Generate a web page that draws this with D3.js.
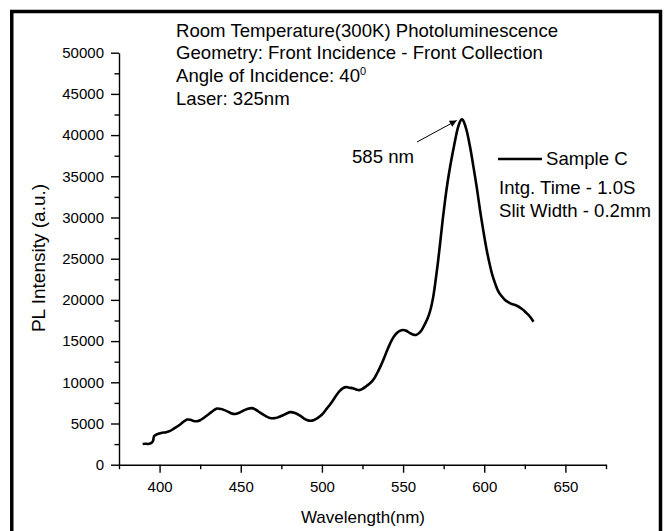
<!DOCTYPE html>
<html><head><meta charset="utf-8">
<script src="https://cdn.jsdelivr.net/npm/d3@7"></script>
<style>
html,body{margin:0;padding:0;background:#fff;}
svg text{font-family:"Liberation Sans",Arial,sans-serif;fill:#000;}
</style></head>
<body><div id="chart"></div>
<script>
// ---- data ----
const wavelength = [389.6,391,393,395,396,396.6,398,401,404,406.5,409,412.5,415,417,419,421,423,425,427,429,431,433,435.5,438,440,442,444,446.5,449,451.5,454,456.8,459,462,465,468,471,473,476,478.5,480.5,483,486.5,489,492,494,496.5,499,501,503,505,507,509,511,513,515,517,519.5,521.5,523,525,527.5,530,532,534,536,538,540,542,544,546,548,550,552,554,556,558,560,561.5,563,565,567,568.6,570,571.5,573,574.5,576,577.5,579,580.5,582,583.5,585,586,587,588.5,589.6,591.5,593.3,595.5,597.4,599.5,601.5,603.5,605,606.7,608.5,610.5,612.8,615,617,619,621,622.5,624.1,625.5,627.2,628.8,630.3];
const intensity = [2500,2550,2520,2650,2900,3450,3650,3850,3950,4100,4400,4850,5250,5480,5450,5300,5280,5400,5650,5950,6250,6550,6820,6750,6620,6450,6250,6150,6300,6550,6750,6870,6700,6320,5950,5680,5650,5750,6000,6250,6380,6300,5950,5600,5350,5350,5550,5900,6300,6800,7300,7850,8450,8950,9300,9420,9350,9250,9100,9050,9200,9550,9950,10400,11100,11900,12800,13800,14700,15450,15950,16250,16350,16250,16000,15800,15750,16000,16350,16900,17700,18900,20400,22300,24600,27200,29900,32300,34400,36200,37800,39300,40700,41600,41900,41800,41000,40200,38300,36200,33500,30900,28300,26060,24200,23000,22000,21100,20500,20000,19700,19500,19380,19200,19000,18770,18500,18170,17800,17350];
const xMajorTicks = [400,450,500,550,600,650];
const xMinorTicks = [375,425,475,525,575,625,675];
const yMajorTicks = [0,5000,10000,15000,20000,25000,30000,35000,40000,45000,50000];
const yMinorTicks = [2500,7500,12500,17500,22500,27500,32500,37500,42500,47500];
const headerLines = ["Room Temperature(300K) Photoluminescence","Geometry: Front Incidence - Front Collection","Angle of Incidence: 40","Laser: 325nm"];
const seriesName = "Sample C";
const noteLines = ["Intg. Time - 1.0S","Slit Width - 0.2mm"];
const peakLabel = "585 nm";
const peakPoint = [585.5, 41900];
const xTitle = "Wavelength(nm)";
const yTitle = "PL Intensity (a.u.)";

// ---- drawing ----
const W = 664, H = 531;
const svg = d3.select("#chart").append("svg").attr("width", W).attr("height", H);

svg.append("rect").attr("x",11.75).attr("y",11.5).attr("width",648.75).attr("height",560)
  .attr("fill","none").attr("stroke","#000").attr("stroke-width",3.5);

const x = d3.scaleLinear().domain([375,675]).range([119,606]);
const y = d3.scaleLinear().domain([0,50000]).range([464.7,52.7]);

const axStyle = g => {
  g.selectAll("path.domain").attr("stroke","#000").attr("stroke-width",1.4);
  g.selectAll(".tick line").attr("stroke","#000").attr("stroke-width",1.4);
  g.selectAll(".tick text").style("font-size","15px").attr("fill","#000");
};

// x axis
const gx = svg.append("g").attr("transform",`translate(0,${y(0)})`)
  .call(d3.axisBottom(x).tickValues(xMajorTicks).tickSize(8).tickSizeOuter(0).tickPadding(9).tickFormat(d3.format("d")));
gx.call(axStyle);
const gxm = svg.append("g").attr("transform",`translate(0,${y(0)})`)
  .call(d3.axisBottom(x).tickValues(xMinorTicks).tickSize(4.5).tickSizeOuter(0).tickFormat(""));
gxm.select("path.domain").remove();
gxm.call(axStyle);

// y axis
const gy = svg.append("g").attr("transform",`translate(${x(375)},0)`)
  .call(d3.axisLeft(y).tickValues(yMajorTicks).tickSize(8).tickSizeOuter(0).tickPadding(7).tickFormat(d3.format("d")));
gy.call(axStyle);
const gym = svg.append("g").attr("transform",`translate(${x(375)},0)`)
  .call(d3.axisLeft(y).tickValues(yMinorTicks).tickSize(4.5).tickSizeOuter(0).tickFormat(""));
gym.select("path.domain").remove();
gym.call(axStyle);

// axis titles
svg.append("text").attr("x",363).attr("y",523).attr("text-anchor","middle")
  .style("font-size","17px").text(xTitle);
svg.append("text").attr("transform","translate(45,258) rotate(-90)").attr("text-anchor","middle")
  .style("font-size","19px").text(yTitle);

// curve
const data = wavelength.map((w,i)=>[w,intensity[i]]);
svg.append("path").datum(data)
  .attr("fill","none").attr("stroke","#000").attr("stroke-width",2.6).attr("stroke-linejoin","round")
  .attr("d", d3.line().x(d=>x(d[0])).y(d=>y(d[1])).curve(d3.curveCatmullRom.alpha(0.5)));

// header text
const hdr = svg.append("g").style("font-size","18.6px");
const hy = [37, 59, 82, 105];
headerLines.forEach((t,i)=>{
  const tx = hdr.append("text").attr("x",176).attr("y",hy[i]).text(t);
  if(i===2){ tx.append("tspan").attr("dy",-7).style("font-size","11px").text("0"); }
});

// peak annotation
svg.append("text").attr("x",352).attr("y",163).style("font-size","18.6px").text(peakLabel);
const defs = svg.append("defs");
defs.append("marker").attr("id","ah").attr("viewBox","0 0 10 10").attr("refX",10).attr("refY",5)
  .attr("markerWidth",9).attr("markerHeight",7).attr("markerUnits","userSpaceOnUse").attr("orient","auto")
  .append("path").attr("d","M0,0L10,5L0,10Z").attr("fill","#000");
svg.append("line").attr("x1",417).attr("y1",142).attr("x2",x(peakPoint[0])-4).attr("y2",y(peakPoint[1])+1)
  .attr("stroke","#000").attr("stroke-width",1).attr("marker-end","url(#ah)");

// legend
svg.append("line").attr("x1",498).attr("x2",542).attr("y1",159).attr("y2",159)
  .attr("stroke","#000").attr("stroke-width",2.6);
svg.append("text").attr("x",546).attr("y",165).style("font-size","18.6px").text(seriesName);
noteLines.forEach((t,i)=>{
  svg.append("text").attr("x",499).attr("y",194+i*23).style("font-size","18.6px").text(t);
});
</script></body></html>
